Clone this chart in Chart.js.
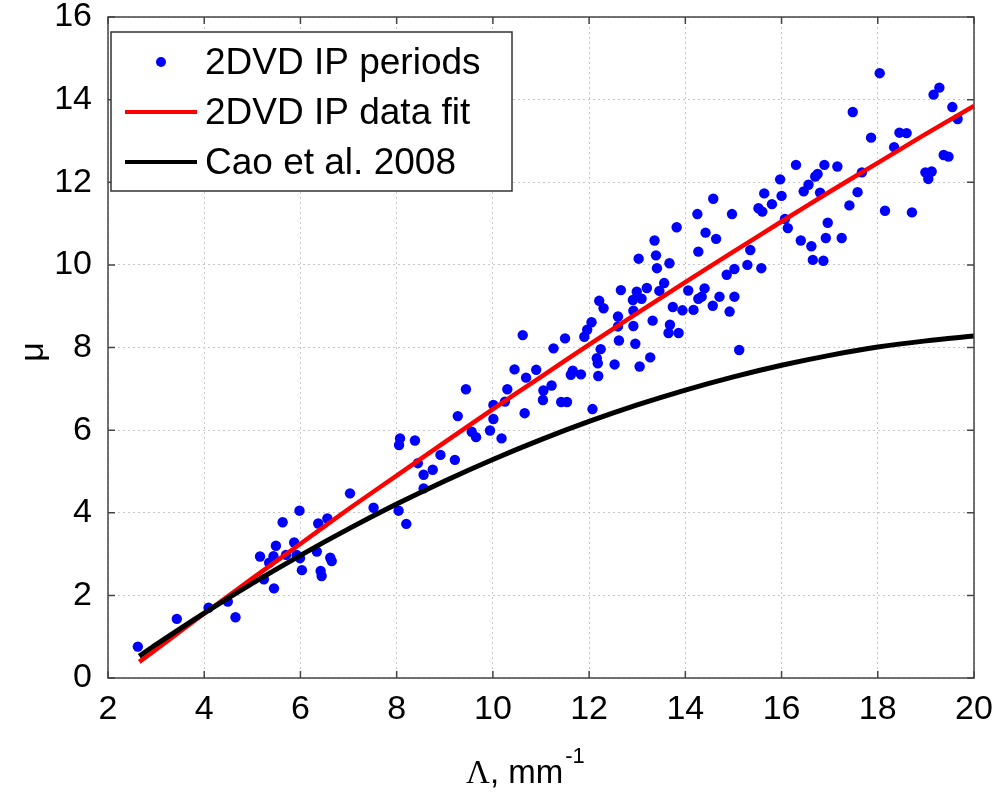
<!DOCTYPE html>
<html>
<head>
<meta charset="utf-8">
<script src="https://cdn.jsdelivr.net/npm/chart.js@4/dist/chart.umd.min.js"></script>
<style>
  html, body { margin: 0; padding: 0; background: #fff; }
  #wrap { width: 1005px; height: 799px; }
</style>
</head>
<body>
<div id="wrap"><canvas id="myChart"></canvas></div>
<script>
// * data
const ptX = [2.62, 3.43, 4.09, 4.49, 4.65, 5.16, 5.24, 5.35, 5.44, 5.45, 5.49, 5.63, 5.70, 5.87, 5.92, 5.99, 5.98, 6.03, 6.34, 6.37,
  6.56, 6.42, 6.44, 6.62, 6.65, 7.03, 7.52, 8.04, 8.20, 8.07, 8.05, 8.38, 8.44, 8.56, 8.56, 8.75, 8.91, 9.21, 9.27, 9.44,
  9.56, 9.65, 9.94, 10.01, 10.01, 10.18, 10.25, 10.30, 10.45, 10.62, 10.66, 10.69, 10.90, 11.04, 11.05, 11.22, 11.26, 11.42, 11.54, 11.50,
  11.62, 11.66, 11.83, 11.90, 11.96, 12.05, 12.07, 12.19, 12.18, 12.16, 12.24, 12.21, 12.30, 12.53, 12.60, 12.60, 12.62, 12.66, 12.92, 12.92,
  12.91, 12.96, 13.03, 13.05, 12.99, 13.09, 13.20, 13.27, 13.32, 13.36, 13.39, 13.41, 13.46, 13.56, 13.67, 13.74, 13.65, 13.68, 13.82, 13.86,
  13.94, 14.17, 14.57, 14.92, 15.12, 14.06, 14.25, 14.27, 14.40, 14.34, 14.27, 14.42, 14.58, 14.64, 14.71, 14.86, 14.97, 15.02, 15.02, 15.29,
  15.35, 15.58, 15.52, 15.60, 15.64, 15.80, 15.97, 16.00, 16.07, 16.13, 16.30, 16.40, 16.46, 16.56, 16.62, 16.65, 16.70, 16.75, 16.80, 16.87,
  16.89, 16.92, 16.96, 17.16, 17.25, 17.41, 17.58, 17.48, 17.67, 17.86, 18.04, 18.15, 18.34, 18.45, 18.60, 18.71, 18.99, 19.05, 19.12, 19.16,
  19.28, 19.37, 19.47, 19.55, 19.66];
const ptY = [0.76, 1.43, 1.70, 1.85, 1.47, 2.94, 2.39, 2.79, 2.95, 2.17, 3.20, 3.77, 2.98, 3.28, 2.98, 2.90, 4.05, 2.61, 3.06, 3.74,
  3.86, 2.59, 2.47, 2.91, 2.83, 4.47, 4.12, 4.05, 3.73, 5.80, 5.64, 5.75, 5.20, 4.92, 4.59, 5.04, 5.40, 5.28, 6.34, 6.99,
  5.96, 5.83, 5.99, 6.27, 6.61, 5.80, 6.69, 6.99, 7.47, 8.30, 6.41, 7.27, 7.46, 6.73, 6.96, 7.08, 7.98, 6.68, 6.68, 8.22,
  7.34, 7.44, 7.35, 8.26, 8.43, 8.61, 6.51, 7.31, 7.62, 7.74, 7.96, 9.13, 8.95, 7.59, 8.75, 8.51, 8.17, 9.39, 8.52, 8.89,
  9.15, 8.09, 10.15, 7.54, 9.35, 9.18, 9.44, 7.76, 8.65, 10.59, 10.23, 9.92, 9.37, 9.56, 10.04, 8.98, 8.35, 8.55, 10.91, 8.35,
  8.90, 8.91, 9.01, 8.87, 7.94, 9.38, 11.23, 10.32, 9.43, 9.23, 9.18, 10.78, 11.60, 10.63, 9.23, 9.76, 11.23, 9.90, 9.23, 10.00,
  10.36, 9.92, 11.37, 11.29, 11.73, 11.47, 12.07, 11.67, 11.11, 10.89, 12.42, 10.59, 11.78, 11.94, 10.45, 10.12, 12.14, 12.20, 11.75, 10.10,
  12.42, 10.65, 11.02, 12.38, 10.65, 11.44, 11.76, 13.70, 12.24, 13.08, 14.64, 11.31, 12.85, 13.20, 13.19, 11.27, 12.24, 12.08, 12.26, 14.12,
  14.29, 12.66, 12.62, 13.82, 13.53];

const lineX = [2.65, 3, 4, 5, 6, 7, 8, 9, 10, 11, 12, 13, 14, 15, 16, 17, 18, 19, 20];
const fitY = [0.39, 0.69, 1.56, 2.41, 3.25, 4.09, 4.90, 5.71, 6.51, 7.29, 8.07, 8.83, 9.58, 10.32, 11.05, 11.77, 12.47, 13.17, 13.85];
const caoY = [0.53, 0.81, 1.57, 2.29, 2.97, 3.61, 4.21, 4.77, 5.29, 5.77, 6.21, 6.61, 6.97, 7.29, 7.57, 7.81, 8.01, 8.16, 8.28];

const labels = ["2DVD IP periods", "2DVD IP data fit", "Cao et al. 2008"];
const FONT = "'Liberation Sans', Arial, sans-serif";

const toXY = (xs, ys) => xs.map((x, i) => ({ x: x, y: ys[i] }));

// * inner ticks, box frame, legend and axis labels
const matlabBits = {
  id: "matlabBits",
  afterDraw(chart) {
    const ctx = chart.ctx;
    const a = chart.chartArea;
    const xs = chart.scales.x, ys = chart.scales.y;
    ctx.save();
    ctx.strokeStyle = "#444";
    ctx.lineWidth = 1.5;
    ctx.strokeRect(a.left, a.top, a.right - a.left, a.bottom - a.top);
    const tl = 7;
    ctx.beginPath();
    xs.ticks.forEach(t => {
      const px = xs.getPixelForValue(t.value);
      ctx.moveTo(px, a.bottom); ctx.lineTo(px, a.bottom - tl);
      ctx.moveTo(px, a.top); ctx.lineTo(px, a.top + tl);
    });
    ys.ticks.forEach(t => {
      const py = ys.getPixelForValue(t.value);
      ctx.moveTo(a.left, py); ctx.lineTo(a.left + tl, py);
      ctx.moveTo(a.right, py); ctx.lineTo(a.right - tl, py);
    });
    ctx.stroke();

    // legend box
    const bx = 111, by = 32, bw = 401, bh = 159;
    ctx.fillStyle = "#fff";
    ctx.fillRect(bx, by, bw, bh);
    ctx.strokeStyle = "#333";
    ctx.lineWidth = 1.5;
    ctx.strokeRect(bx, by, bw, bh);
    ctx.font = "37px " + FONT;
    ctx.textBaseline = "middle";
    ctx.textAlign = "left";
    chart.data.datasets.forEach((ds, i) => {
      const cy = by + 30 + i * 50;
      if (i === 0) {
        ctx.fillStyle = ds.backgroundColor;
        ctx.beginPath();
        ctx.arc(161, cy, 5, 0, Math.PI * 2);
        ctx.fill();
      } else {
        ctx.strokeStyle = ds.borderColor;
        ctx.lineWidth = 4;
        ctx.beginPath();
        ctx.moveTo(125, cy); ctx.lineTo(197, cy);
        ctx.stroke();
      }
      ctx.fillStyle = "#000";
      ctx.fillText(ds.label, 205, cy + 2);
    });

    // x label
    ctx.fillStyle = "#000";
    ctx.textBaseline = "alphabetic";
    ctx.font = "33px 'Liberation Serif', serif";
    ctx.fillText("\u039B", 466, 783);
    let w = ctx.measureText("\u039B").width;
    ctx.font = "33px " + FONT;
    ctx.fillText(", mm", 466 + w, 783);
    w += ctx.measureText(", mm").width;
    ctx.font = "22px " + FONT;
    ctx.fillText("-1", 466 + w + 2, 763);

    // y label
    ctx.translate(34, 352);
    ctx.rotate(-Math.PI / 2);
    ctx.font = "34px " + FONT;
    ctx.textAlign = "center";
    ctx.textBaseline = "middle";
    ctx.fillText("\u03BC", 0, 0);
    ctx.restore();
  },
};

const data = {
  datasets: [
    {
      label: labels[0],
      data: toXY(ptX, ptY),
      backgroundColor: "#0000ff",
      borderColor: "#0000ff",
      pointRadius: 5.2,
      pointBorderWidth: 0,
      showLine: false,
      order: 3,
    },
    {
      label: labels[1],
      data: toXY(lineX, fitY),
      borderColor: "#ff0000",
      backgroundColor: "#ff0000",
      borderWidth: 4.5,
      pointRadius: 0,
      showLine: true,
      tension: 0.3,
      order: 2,
    },
    {
      label: labels[2],
      data: toXY(lineX, caoY),
      borderColor: "#000000",
      backgroundColor: "#000000",
      borderWidth: 5,
      pointRadius: 0,
      showLine: true,
      tension: 0.3,
      order: 1,
    },
  ],
};

const gridStyle = {
  color: "#c8c8c8",
  lineWidth: 1,
  drawTicks: false,
};

let config = {
  type: "scatter",
  data: data,
  options: {
    responsive: false,
    animation: false,
    devicePixelRatio: 1,
    layout: { padding: { left: 0, right: 31, top: 17, bottom: 0 } },
    plugins: {
      legend: { display: false },
      tooltip: { enabled: false },
    },
    scales: {
      x: {
        type: "linear",
        min: 2,
        max: 20,
        ticks: { stepSize: 2, color: "#000", padding: 11, font: { size: 34, family: FONT } },
        grid: gridStyle,
        border: { display: false, dash: [2, 3] },
        afterFit(scale) {
          scale.height = 121;
          scale.paddingLeft = 0;
          scale.paddingRight = 0;
        },
      },
      y: {
        type: "linear",
        min: 0,
        max: 16,
        ticks: { stepSize: 2, color: "#000", padding: 16, font: { size: 34, family: FONT } },
        grid: gridStyle,
        border: { display: false, dash: [2, 3] },
        afterFit(scale) {
          scale.width = 108;
          scale.paddingTop = 0;
          scale.paddingBottom = 0;
        },
      },
    },
  },
  plugins: [matlabBits],
};

const cv = document.getElementById("myChart");
cv.width = 1005;
cv.height = 799;
let chart = new Chart(cv, config);
</script>
</body>
</html>
